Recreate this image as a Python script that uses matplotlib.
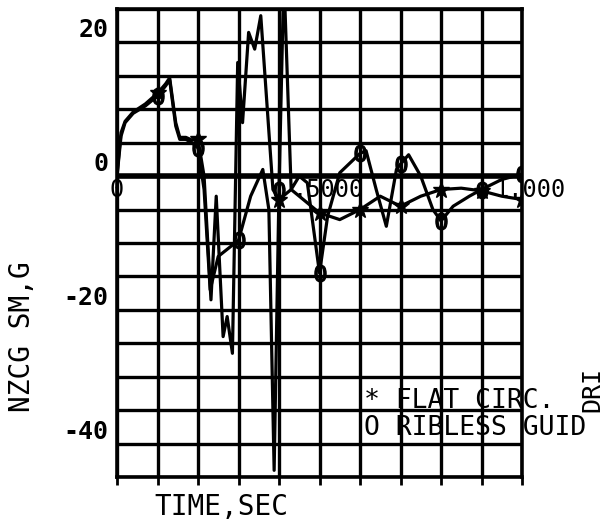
import matplotlib
matplotlib.use("Agg")
import matplotlib.pyplot as plt
import numpy as np

# ---- data ----
# FLAT CIRC. (* markers)
t_flat = [0.0, 0.005, 0.01, 0.02, 0.04, 0.07, 0.1, 0.12, 0.13, 0.145, 0.155,
          0.17, 0.185, 0.2, 0.215, 0.232, 0.245, 0.262, 0.272, 0.285, 0.298,
          0.31, 0.325, 0.34, 0.355, 0.385, 0.4, 0.43, 0.47, 0.5, 0.55, 0.6,
          0.65, 0.7, 0.75, 0.8, 0.85, 0.9, 0.95, 1.0]
nz_flat = [0.0, 3.5, 6.5, 8.2, 9.6, 10.8, 12.4, 13.8, 14.7, 8.0, 5.8,
           5.8, 5.4, 5.5, 0.0, -18.5, -3.0, -24.0, -21.0, -26.5, 17.0,
           8.0, 21.5, 19.0, 24.0, -2.0, -3.5, -2.0, -4.0, -5.5, -6.5, -5.0,
           -3.0, -4.5, -3.0, -2.0, -1.8, -2.2, -3.0, -3.5]

# RIBLESS GUID (O markers)
t_rib = [0.0, 0.005, 0.01, 0.02, 0.04, 0.07, 0.1, 0.12, 0.13, 0.145, 0.155,
         0.17, 0.185, 0.2, 0.215, 0.23, 0.25, 0.3, 0.33, 0.36, 0.375, 0.388,
         0.4, 0.412, 0.43, 0.45, 0.47, 0.5, 0.52, 0.55, 0.6, 0.615, 0.64,
         0.665, 0.69, 0.7, 0.72, 0.75, 0.78, 0.8, 0.83, 0.87, 0.9, 0.95, 1.0]
nz_rib = [0.0, 3.0, 6.0, 8.0, 9.4, 10.5, 12.0, 13.5, 14.4, 7.5, 5.5,
          5.5, 5.0, 4.2, -2.0, -17.0, -12.0, -9.6, -3.0, 1.0, -5.0, -44.0,
          -2.0, 30.0, -2.0, 0.0, -1.0, -14.5, -6.0, 0.5, 3.4, 3.8, -2.0,
          -7.5, 1.0, 1.8, 3.2, 0.0, -5.0, -6.7, -4.5, -3.0, -2.0, -0.5, 0.3]

x_tick_labels = ["0", ".5000", "1.000"]
x_tick_vals = [0.0, 0.5, 1.0]
y_tick_vals = [-40, -20, 0, 20]

font = "DejaVu Sans Mono"

fig = plt.figure(figsize=(6.08, 5.24), dpi=100)
ax = fig.add_axes([117 / 608, 1 - 477 / 524, 405 / 608, 468 / 524])

ax.set_xlim(0, 1.0)
ax.set_ylim(-45, 25)
ax.set_xticks(np.arange(0, 1.01, 0.1))
ax.set_xticklabels([])
ax.set_yticks(y_tick_vals)
ax.set_yticklabels([str(v) for v in y_tick_vals], fontfamily=font,
                   fontsize=18, fontweight="bold")
ax.set_yticks(np.arange(-45, 26, 5), minor=True)
plt.setp(ax.get_yticklabels(), va="bottom")
ax.tick_params(axis="y", which="both", length=0, pad=6)
ax.tick_params(axis="x", which="both", length=6, width=2, direction="out")
ax.grid(True, which="both", color="black", linewidth=2.4)
ax.set_axisbelow(True)
for s in ax.spines.values():
    s.set_linewidth(2.6)
ax.axhline(0, color="black", linewidth=4.0, zorder=1)

# curves, markers every 0.1 s
t_f = np.array(t_flat)
t_r = np.array(t_rib)
mark_f = np.isclose(t_f * 10, np.round(t_f * 10)) & (t_f > 0)
mark_r = np.isclose(t_r * 10, np.round(t_r * 10)) & (t_r > 0)
ax.plot(t_f, nz_flat, color="black", linewidth=2.3, marker="*",
        markersize=12, markevery=list(mark_f), zorder=3)
ax.plot(t_r, nz_rib, color="black", linewidth=2.3, marker="$0$",
        markersize=12, markevery=list(mark_r), zorder=3)

# x tick labels sit on the zero line
for lbl, xv, dx in zip(x_tick_labels, x_tick_vals, [0, 8, 8]):
    ax.annotate(lbl, (xv, 0), xytext=(dx, -2), textcoords="offset pixels",
                ha="center", va="top", fontfamily=font, fontsize=17,
                annotation_clip=False, zorder=4)

# legend-like text
ax.text(0.61, -33.6, "* FLAT CIRC.", fontfamily=font, fontsize=19,
        va="center", ha="left", clip_on=False, zorder=2)
ax.text(0.61, -37.6, "O RIBLESS GUID", fontfamily=font, fontsize=19,
        va="center", ha="left", clip_on=False, zorder=4)
fig.text(592 / 608, 1 - 390 / 524, "DRI", fontfamily=font, fontsize=18,
         rotation=90, ha="center", va="center")

ax.set_xlabel("TIME,SEC", fontfamily=font, fontsize=20)
ax.xaxis.set_label_coords(0.257, -0.035)
ax.set_ylabel("NZCG SM,G", fontfamily=font, fontsize=20)
ax.yaxis.set_label_coords(-0.2, 0.30)

fig.savefig("out.png", dpi=100)
